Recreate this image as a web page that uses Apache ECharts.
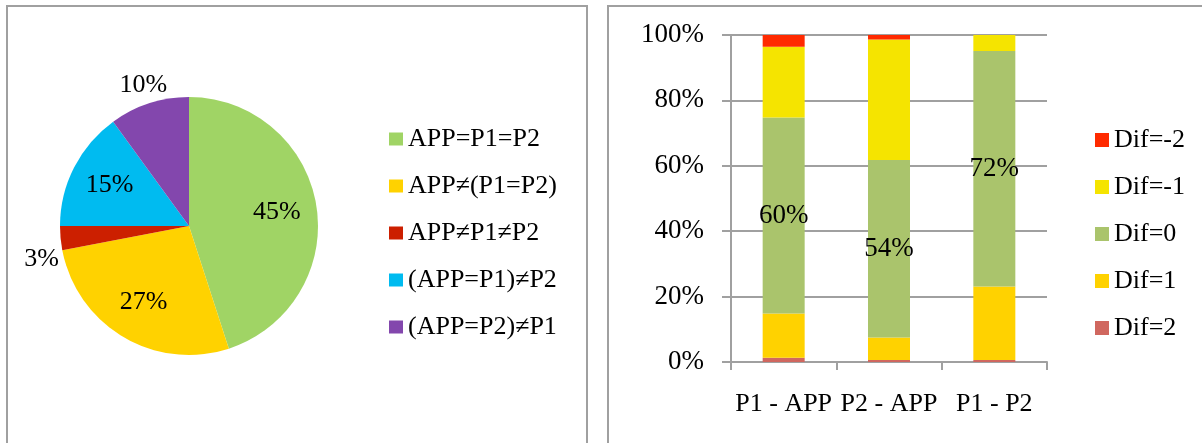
<!DOCTYPE html>
<html>
<head>
<meta charset="utf-8">
<script src="https://cdn.jsdelivr.net/npm/echarts@6/dist/echarts.min.js"></script>
<style>
html,body{margin:0;padding:0;background:#fff;}
#c{width:1202px;height:443px;}
</style>
</head>
<body>
<div id="c"></div>
<script>
// ---- data ----
var pieNames = ['APP=P1=P2', 'APP≠(P1=P2)', 'APP≠P1≠P2', '(APP=P1)≠P2', '(APP=P2)≠P1'];
var pieValues = [45, 27, 3, 15, 10];
var pieColors = ['#a0d465', '#ffd200', '#cc1f00', '#00bbf0', '#8347ad'];

var barCategories = ['P1 - APP', 'P2 - APP', 'P1 - P2'];
var difNames = ['Dif=2', 'Dif=1', 'Dif=0', 'Dif=-1', 'Dif=-2'];
var dif2  = [1.3, 0.6, 0.6];
var dif1  = [13.5, 6.9, 22.5];
var dif0  = [60, 54.3, 72];
var difm1 = [21.6, 36.8, 4.9];
var difm2 = [3.6, 1.4, 0];
var difColors = ['#d0675f', '#ffd200', '#aac46c', '#f5e400', '#ff2a00'];
var yTicks = [0, 20, 40, 60, 80, 100];

var FONT = 'Liberation Serif';
var chart = echarts.init(document.getElementById('c'));

var pieData = pieNames.map(function (n, i) {
  return { name: n, value: pieValues[i], itemStyle: { color: pieColors[i] } };
});
function labelData(showIdx) {
  return pieNames.map(function (n, i) {
    var lbl = { show: showIdx.indexOf(i) >= 0 };
    if (i === 2) { lbl.formatter = '\n{c}%'; lbl.lineHeight = 38; }
    return { name: n, value: pieValues[i], label: lbl };
  });
}
var overlayBase = {
  type: 'pie', center: [189, 226], startAngle: 90, clockwise: true,
  silent: true, avoidLabelOverlap: false,
  itemStyle: { color: 'rgba(0,0,0,0)', borderWidth: 0 },
  labelLine: { show: false },
  emphasis: { disabled: true },
  label: { position: 'inside', color: '#000', fontFamily: FONT, fontSize: 26,
           formatter: function (p) { return p.value + '%'; } }
};

var barData = [dif2, dif1, dif0, difm1, difm2];

var option = {
  animation: false,
  graphic: [
    { type: 'rect', shape: { x: 7, y: 6, width: 580, height: 470 },
      style: { fill: 'none', stroke: '#a0a0a0', lineWidth: 2 } },
    { type: 'rect', shape: { x: 608, y: 6, width: 640, height: 470 },
      style: { fill: 'none', stroke: '#a0a0a0', lineWidth: 2 } }
  ],
  legend: [
    {
      data: pieNames, orient: 'vertical', left: 384, top: 121,
      itemWidth: 14, itemHeight: 13, itemGap: 21, icon: 'rect',
      textStyle: { fontFamily: FONT, fontSize: 26, color: '#000', lineHeight: 26 }
    },
    {
      data: difNames.slice().reverse(), orient: 'vertical', left: 1090, top: 122,
      itemWidth: 14, itemHeight: 14, itemGap: 21, icon: 'rect',
      textStyle: { fontFamily: FONT, fontSize: 26, color: '#000', lineHeight: 26 }
    }
  ],
  grid: { left: 731, right: 155, top: 35, bottom: 81, containLabel: false },
  xAxis: {
    type: 'category', data: barCategories,
    axisLine: { lineStyle: { color: '#a0a0a0', width: 2 } },
    axisTick: { show: true, length: 8, lineStyle: { color: '#a0a0a0', width: 2 } },
    axisLabel: { interval: 0, margin: 29, color: '#000', fontFamily: FONT, fontSize: 26 }
  },
  yAxis: {
    type: 'value', min: 0, max: 100, interval: 20,
    axisLine: { show: true, lineStyle: { color: '#a0a0a0', width: 2 } },
    axisTick: { show: true, length: 9, lineStyle: { color: '#a0a0a0', width: 2 } },
    splitLine: { lineStyle: { color: '#a0a0a0', width: 2 } },
    axisLabel: { margin: 27, color: '#000', fontFamily: FONT, fontSize: 27,
                 formatter: '{value}%' }
  },
  series: [
    {
      type: 'pie', center: [189, 226], radius: 129, startAngle: 90, clockwise: true,
      data: pieData, label: { show: false }, labelLine: { show: false },
      itemStyle: { borderWidth: 0 }, emphasis: { disabled: true }
    },
    Object.assign({}, overlayBase, { radius: 172, data: labelData([0, 1, 3]) }),
    Object.assign({}, overlayBase, { radius: 290, data: labelData([2, 4]) })
  ].concat(difNames.map(function (n, i) {
    return {
      type: 'bar', name: n, stack: 'dif', barWidth: 42,
      data: barData[i],
      itemStyle: { color: difColors[i] },
      label: {
        show: n === 'Dif=0', position: 'inside', color: '#000',
        fontFamily: FONT, fontSize: 27,
        formatter: function (p) { return Math.round(p.value) + '%'; }
      }
    };
  }))
};
chart.setOption(option);
</script>
</body>
</html>
